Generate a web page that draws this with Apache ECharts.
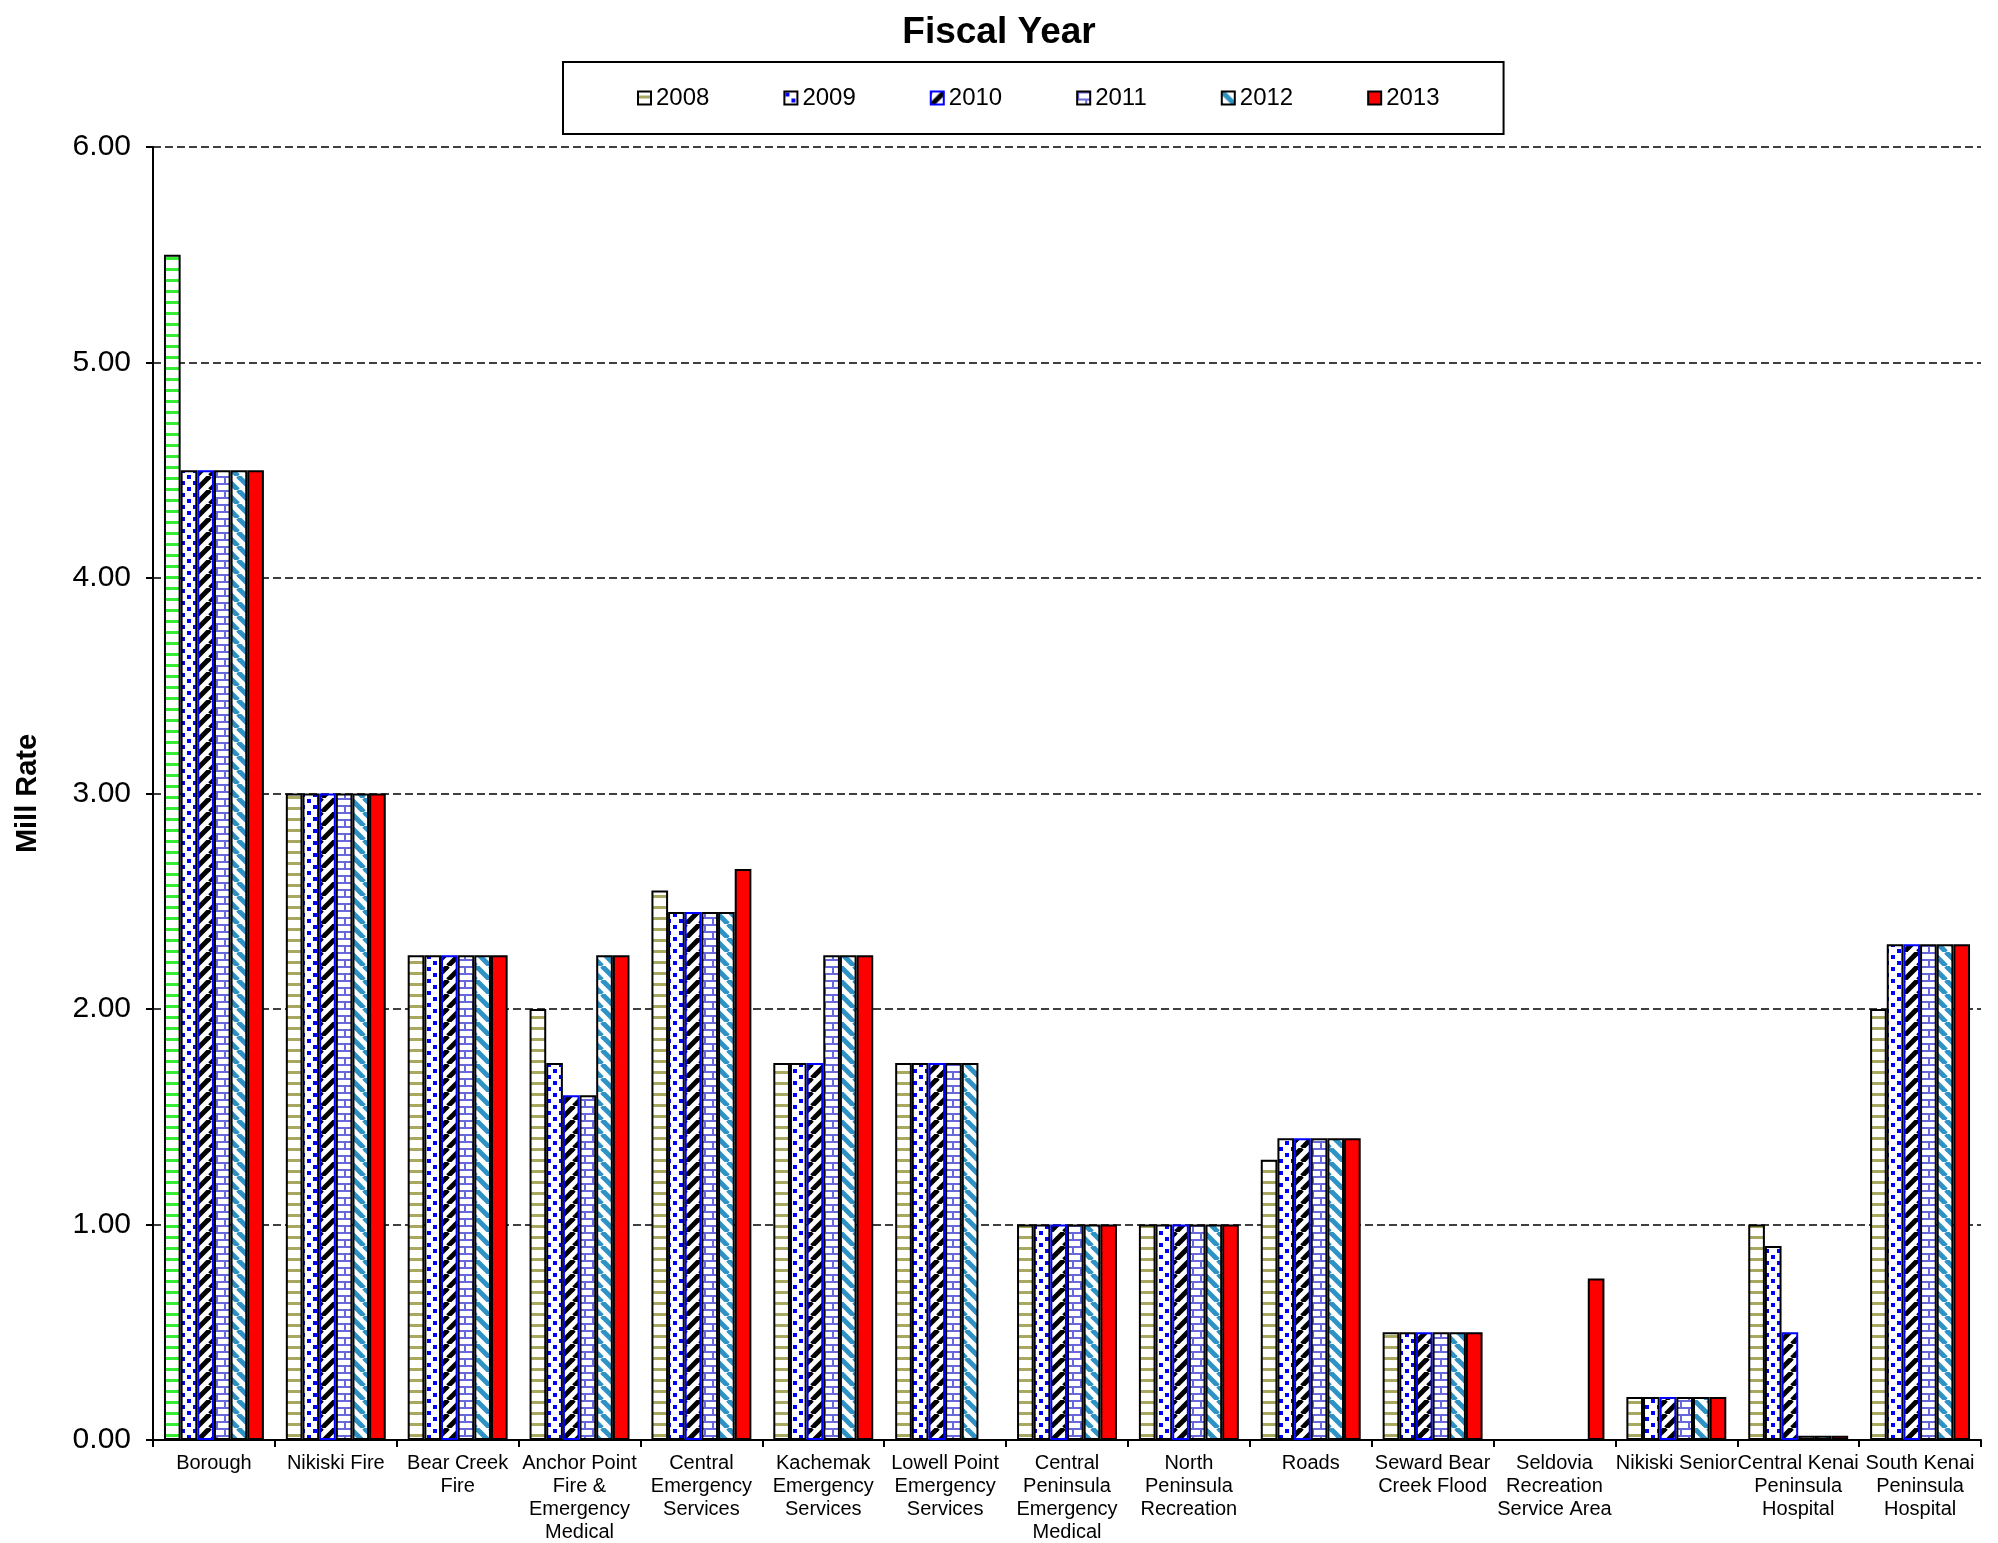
<!DOCTYPE html>
<html lang="en">
<head>
    <meta charset="UTF-8">
    <title>Fiscal Year</title>
    <script src="https://cdn.jsdelivr.net/npm/echarts@6/dist/echarts.min.js"></script>
    <style>
        html, body { margin: 0; padding: 0; background: #fff; }
    </style>
</head>
<body>
    <div id="main" style="width: 1998px;height:1543px;"></div>
    <script type="text/javascript">
        // categories (tick labels, line breaks as in the picture)
        var categories = [
            'Borough', 'Nikiski Fire', 'Bear Creek\nFire', 'Anchor Point\nFire &\nEmergency\nMedical',
            'Central\nEmergency\nServices', 'Kachemak\nEmergency\nServices', 'Lowell Point\nEmergency\nServices',
            'Central\nPeninsula\nEmergency\nMedical', 'North\nPeninsula\nRecreation', 'Roads',
            'Seward Bear\nCreek Flood', 'Seldovia\nRecreation\nService Area', 'Nikiski Senior',
            'Central Kenai\nPeninsula\nHospital', 'South Kenai\nPeninsula\nHospital'
        ];
        var years = ['2008', '2009', '2010', '2011', '2012', '2013'];
        var yTicks = [0, 1, 2, 3, 4, 5, 6];

        // mill rate per year
        var fy2008 = [5.50, 3.00, 2.25, 2.00, 2.55, 1.75, 1.75, 1.00, 1.00, 1.30, 0.50, null, 0.20, 1.00, 2.00];
        var fy2009 = [4.50, 3.00, 2.25, 1.75, 2.45, 1.75, 1.75, 1.00, 1.00, 1.40, 0.50, null, 0.20, 0.90, 2.30];
        var fy2010 = [4.50, 3.00, 2.25, 1.60, 2.45, 1.75, 1.75, 1.00, 1.00, 1.40, 0.50, null, 0.20, 0.50, 2.30];
        var fy2011 = [4.50, 3.00, 2.25, 1.60, 2.45, 2.25, 1.75, 1.00, 1.00, 1.40, 0.50, null, 0.20, 0.02, 2.30];
        var fy2012 = [4.50, 3.00, 2.25, 2.25, 2.45, 2.25, 1.75, 1.00, 1.00, 1.40, 0.50, null, 0.20, 0.02, 2.30];
        var fy2013 = [4.50, 3.00, 2.25, 2.25, 2.65, 2.25, null, 1.00, 1.00, 1.40, 0.50, 0.75, 0.20, 0.02, 2.30];

        // small canvas tiles for the hatch fills
        function tile(w, h, draw) {
            var c = document.createElement('canvas');
            c.width = w; c.height = h;
            var ctx = c.getContext('2d');
            ctx.fillStyle = '#ffffff';
            ctx.fillRect(0, 0, w, h);
            draw(ctx);
            return { image: c, repeat: 'repeat' };
        }
        function hLines(col) {
            return tile(8, 11, function (ctx) {
                ctx.fillStyle = col;
                ctx.fillRect(0, 4, 8, 3);
            });
        }
        var dots = tile(12, 12, function (ctx) {
            ctx.fillStyle = '#0000ff';
            ctx.fillRect(1, 1, 4, 4);
            ctx.fillRect(7, 7, 4, 4);
        });
        function diag(col, up) {
            return tile(14, 14, function (ctx) {
                ctx.strokeStyle = col;
                ctx.lineWidth = 5;
                for (var k = -1; k <= 1; k++) {
                    ctx.beginPath();
                    if (up) {
                        ctx.moveTo(k * 14, 14);
                        ctx.lineTo(k * 14 + 14, 0);
                    } else {
                        ctx.moveTo(k * 14, 0);
                        ctx.lineTo(k * 14 + 14, 14);
                    }
                    ctx.stroke();
                }
            });
        }
        var bricks = tile(16, 14, function (ctx) {
            ctx.fillStyle = '#6868dc';
            ctx.fillRect(0, 0, 16, 2);
            ctx.fillRect(0, 7, 16, 2);
            ctx.fillRect(0, 0, 2, 7);
            ctx.fillRect(8, 7, 2, 7);
        });

        var fills = [hLines('#a8a860'), dots, diag('#000000', true), bricks, diag('#2e93c4', false), '#ff0000'];
        var borders = ['#000', '#000', '#0000ff', '#000', '#000', '#000'];
        var values = [fy2008, fy2009, fy2010, fy2011, fy2012, fy2013];

        var series = [];
        for (var i = 0; i < years.length; i++) {
            var data = values[i].slice();
            if (i == 0) {
                // Borough 2008 bar is drawn in green
                data[0] = { value: fy2008[0], itemStyle: { color: hLines('#33ee33') } };
            }
            series.push({
                name: years[i],
                type: 'bar',
                barGap: 0,
                barCategoryGap: '18%',
                itemStyle: { color: fills[i], borderColor: borders[i], borderWidth: 2 },
                data: data
            });
        }

        var myChart = echarts.init(document.getElementById('main'));
        var option = {
            backgroundColor: '#fff',
            animation: false,
            textStyle: { fontFamily: 'Arial, "Liberation Sans", sans-serif', color: '#000' },
            title: {
                text: 'Fiscal Year',
                left: 'center',
                top: 9,
                textStyle: { fontSize: 37, fontWeight: 'bold', color: '#000' }
            },
            legend: {
                data: years,
                left: 563,
                top: 62,
                padding: [24, 64, 24, 74],
                itemWidth: 13,
                itemHeight: 13,
                itemGap: 74,
                icon: 'rect',
                borderColor: '#000',
                borderWidth: 2,
                backgroundColor: '#fff',
                textStyle: { fontSize: 24, color: '#000' }
            },
            grid: { left: 153, right: 17, top: 147, bottom: 103, containLabel: false, outerBoundsMode: 'none' },
            xAxis: {
                type: 'category',
                data: categories,
                axisLine: { lineStyle: { color: '#000', width: 2 } },
                axisTick: { show: true, length: 7, lineStyle: { color: '#000', width: 2 } },
                axisLabel: { interval: 0, fontSize: 20, lineHeight: 23, color: '#000', margin: 12 }
            },
            yAxis: {
                type: 'value',
                min: yTicks[0],
                max: yTicks[yTicks.length - 1],
                interval: 1,
                name: 'Mill Rate',
                nameLocation: 'middle',
                nameGap: 111,
                nameTextStyle: { fontSize: 29, fontWeight: 'bold', color: '#000' },
                axisLine: { show: true, lineStyle: { color: '#000', width: 2 } },
                axisTick: { show: true, length: 7, lineStyle: { color: '#000', width: 2 } },
                axisLabel: {
                    fontSize: 30, color: '#000', margin: 22,
                    formatter: function (v) { return v.toFixed(2); }
                },
                splitLine: { show: true, lineStyle: { color: '#000', type: [8, 4], width: 1.5 } }
            },
            series: series
        };
        myChart.setOption(option);
    </script>
</body>
</html>
